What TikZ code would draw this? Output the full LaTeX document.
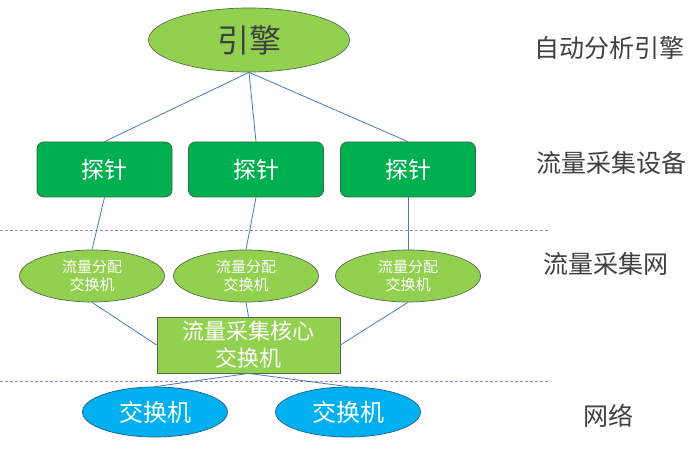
\documentclass[tikz,border=0pt]{standalone}
\usepackage{fontspec}
\setmainfont{Noto Sans CJK SC}
\usetikzlibrary{shapes.geometric}
\definecolor{lgreen}{HTML}{92D050}
\definecolor{dgreen}{HTML}{00B050}
\definecolor{sblue}{HTML}{00B0F0}
\definecolor{lineblue}{HTML}{3F7FBF}
\definecolor{sepcol}{HTML}{9F86C8}
\definecolor{txtgray}{HTML}{404040}
\definecolor{edgegray}{HTML}{5A6B4A}
\begin{document}
\begin{tikzpicture}[x=1pt,y=-1pt,
  conn/.style={draw=lineblue, line width=0.8pt},
  engine/.style={ellipse, fill=lgreen, draw=edgegray, line width=0.7pt, minimum width=201, minimum height=64, inner sep=0, text=txtgray, font=\fontsize{32}{32}\selectfont},
  probe/.style={rectangle, rounded corners=7pt, fill=dgreen, draw={rgb,255:red,40;green,110;blue,60}, line width=0.7pt, minimum width=135, minimum height=55, inner sep=0, text=white, font=\fontsize{23}{23}\selectfont},
  dist/.style={ellipse, fill=lgreen, draw=edgegray, line width=0.7pt, minimum width=145, minimum height=52, inner sep=0, text=white, align=center, font=\fontsize{15}{18}\selectfont},
  core/.style={rectangle, fill=lgreen, draw=edgegray, line width=0.8pt, minimum width=183, minimum height=56, inner sep=0, text=white, align=center, font=\fontsize{22}{27}\selectfont},
  sw/.style={ellipse, fill=sblue, draw={rgb,255:red,30;green,90;blue,140}, line width=0.7pt, minimum width=145, minimum height=50, inner sep=0, text=white, font=\fontsize{24}{24}\selectfont},
  layer/.style={text=txtgray, font=\fontsize{25}{25}\selectfont},
  sep/.style={draw=sepcol, dashed, dash pattern=on 3pt off 2pt, line width=0.7pt}]
\useasboundingbox (0,0) rectangle (694,465);
\fill[white] (0,0) rectangle (694,465);
% separators
\draw[sep] (0,230) -- (548,230);
\draw[sep] (0,381) -- (548,381);
% nodes
\node[engine] (eng) at (249,40) {引擎};
\node[probe] (p1) at (104.5,169.5) {探针};
\node[probe] (p2) at (256,169.5) {探针};
\node[probe] (p3) at (408,169.5) {探针};
\node[dist] (d1) at (92,276) {流量分配\\交换机};
\node[dist] (d2) at (246,276) {流量分配\\交换机};
\node[dist] (d3) at (408,276) {流量分配\\交换机};
\node[core] (c) at (248.5,345) {流量采集核心\\交换机};
\node[sw] (s1) at (155,412) {交换机};
\node[sw] (s2) at (348,412) {交换机};
% layer labels
\node[layer] (l1) at (609,48) {自动分析引擎};
\node[layer] (l2) at (611,163) {流量采集设备};
\node[layer] (l3) at (606,264) {流量采集网};
\node[layer] (l4) at (608,416) {网络};
% connectors
\begin{scope}[on background layer/.style={}]
\end{scope}
\draw[conn] (eng.south) -- (p1.north);
\draw[conn] (eng.south) -- (p2.north);
\draw[conn] (eng.south) -- (p3.north);
\draw[conn] (p1.south) -- (d1.north);
\draw[conn] (p2.south) -- (d2.north);
\draw[conn] (p3.south) -- (d3.north);
\draw[conn] (d1.south) -- (c.west);
\draw[conn] (d2.south) -- (c.north);
\draw[conn] (d3.south) -- (c.east);
\draw[conn] (c.south) -- (s1.north);
\draw[conn] (c.south) -- (s2.north);
\end{tikzpicture}
\end{document}
